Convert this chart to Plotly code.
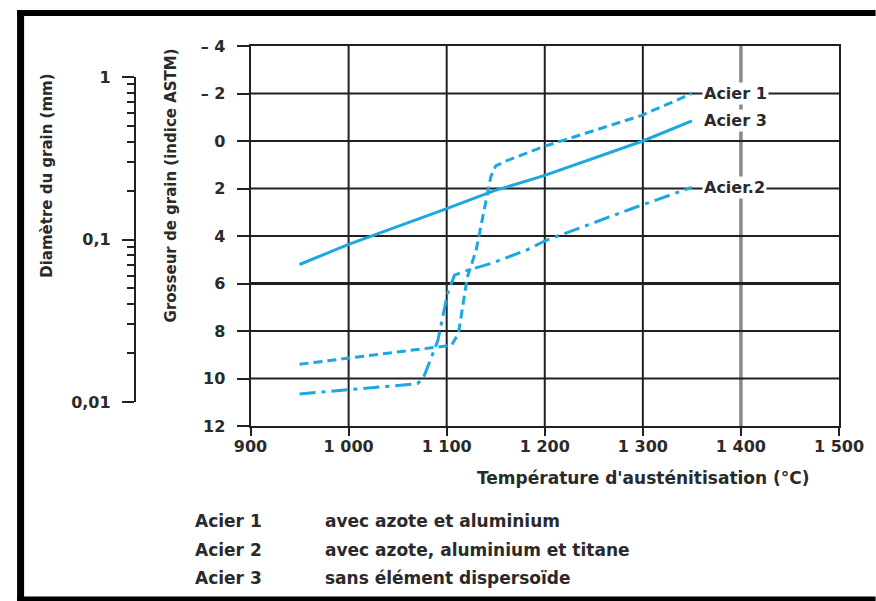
import plotly.graph_objects as go

# ---- data ----
acier1_x = [950, 1060, 1105, 1112, 1121, 1130, 1145, 1150, 1160, 1200, 1246, 1299, 1350]
acier1_y = [9.4, 8.83, 8.6, 8.1, 5.74, 4.6, 1.5, 1.05, 0.85, 0.22, -0.38, -1.08, -2.0]

acier2_x = [950, 1070, 1076, 1091, 1101, 1108, 1121, 1145, 1181, 1201, 1292, 1350]
acier2_y = [10.65, 10.22, 10.0, 8.4, 6.4, 5.65, 5.45, 5.16, 4.6, 4.19, 2.8, 1.95]

acier3_x = [950, 1000, 1100, 1148, 1200, 1300, 1350]
acier3_y = [5.2, 4.35, 2.85, 2.1, 1.45, 0.0, -0.85]

x_ticks = [900, 1000, 1100, 1200, 1300, 1400, 1500]
x_ticktext = ["900", "1 000", "1 100", "1 200", "1 300", "1 400", "1 500"]
y_ticks = [-4, -2, 0, 2, 4, 6, 8, 10, 12]
y_ticktext = ["\u2013 4", "\u2013 2", "0", "2", "4", "6", "8", "10", "12"]
d_major = [0.01, 0.1, 1]
d_major_text = ["0,01", "0,1", "1"]
d_minor = [0.02, 0.03, 0.04, 0.05, 0.06, 0.07, 0.08, 0.09,
           0.2, 0.3, 0.4, 0.5, 0.6, 0.7, 0.8, 0.9]

legend_names = ["Acier 1", "Acier 2", "Acier 3"]
legend_desc = ["avec azote et aluminium",
               "avec azote, aluminium et titane",
               "sans élément dispersoïde"]
curve_labels = ["Acier 1", "Acier 3", "Acier.2"]

# ---- geometry (pixels) ----
W, H = 876, 601
ML, MR, MT, MB = 20, 37, 46, 175
PW, PH = W - ML - MR, H - MT - MB


def px(xp):
    return (xp - ML) / PW


def py(yp):
    return (H - MB - yp) / PH


FONT = "DejaVu Sans"
TXT = "#2a2a2a"
CYAN = "#1ba8e2"
BOLD = "bold"

fig = go.Figure()
fig.add_trace(go.Scatter(x=acier1_x, y=acier1_y, mode="lines",
                         line=dict(color=CYAN, width=3, dash="9px,5px"),
                         showlegend=False, hoverinfo="skip"))
fig.add_trace(go.Scatter(x=acier2_x, y=acier2_y, mode="lines",
                         line=dict(color=CYAN, width=3, dash="16px,6px,4px,6px"),
                         showlegend=False, hoverinfo="skip"))
fig.add_trace(go.Scatter(x=acier3_x, y=acier3_y, mode="lines",
                         line=dict(color=CYAN, width=3),
                         showlegend=False, hoverinfo="skip"))
# dummy trace to activate the diameter axis
fig.add_trace(go.Scatter(x=[None], y=[None], yaxis="y2", showlegend=False,
                         hoverinfo="skip"))

shapes = []
# vertical grid lines
for v in x_ticks[1:-1]:
    col = "#8a8a8a" if v == 1400 else "#202020"
    wid = 3.5 if v == 1400 else 2
    shapes.append(dict(type="line", xref="x", yref="y", x0=v, x1=v,
                       y0=y_ticks[0], y1=y_ticks[-1],
                       line=dict(color=col, width=wid), layer="below"))
# horizontal grid lines
for v in y_ticks[1:-1]:
    shapes.append(dict(type="line", xref="x", yref="y", x0=x_ticks[0],
                       x1=x_ticks[-1], y0=v, y1=v,
                       line=dict(color="#202020", width=3.2 if v == 6 else 1.8),
                       layer="below"))
# outer frame
shapes.append(dict(type="line", xref="paper", yref="paper",
                   x0=px(8), x1=px(W), y0=py(13), y1=py(13),
                   line=dict(color="black", width=6)))
shapes.append(dict(type="line", xref="paper", yref="paper",
                   x0=px(11.5), x1=px(11.5), y0=py(10), y1=py(H),
                   line=dict(color="black", width=7)))
shapes.append(dict(type="line", xref="paper", yref="paper",
                   x0=px(8), x1=px(W), y0=py(599), y1=py(599),
                   line=dict(color="black", width=5)))


def f(size):
    return dict(family=FONT, size=size, color=TXT, weight=BOLD)


annotations = []
# curve labels
for name, yv in zip(curve_labels, [acier1_y[-1], acier3_y[-1], acier2_y[-1]]):
    annotations.append(dict(x=px(700), y=yv, xref="paper", yref="y",
                            text=name, showarrow=False, xanchor="left",
                            yanchor="middle", bgcolor="white", borderpad=1,
                            font=f(16)))
# axis titles
annotations.append(dict(x=px(38), y=py(176), xref="paper", yref="paper",
                        text="Diamètre du grain (mm)", textangle=-90,
                        xanchor="center", yanchor="middle",
                        showarrow=False, font=f(15)))
annotations.append(dict(x=px(164), y=py(185), xref="paper", yref="paper",
                        text="Grosseur de grain (indice ASTM)", textangle=-90,
                        xanchor="center", yanchor="middle",
                        showarrow=False, font=f(15)))
annotations.append(dict(x=px(641), y=py(478), xref="paper", yref="paper",
                        text="Température d'austénitisation (°C)",
                        xanchor="center", yanchor="middle",
                        showarrow=False, font=f(17)))
# legend text
for i, (n, d) in enumerate(zip(legend_names, legend_desc)):
    yy = py(521 + 28.5 * i)
    annotations.append(dict(x=px(186), y=yy, xref="paper", yref="paper",
                            text=n, showarrow=False, xanchor="left",
                            yanchor="middle", font=f(17)))
    annotations.append(dict(x=px(317), y=yy, xref="paper", yref="paper",
                            text=d, showarrow=False, xanchor="left",
                            yanchor="middle", font=f(17)))

fig.update_layout(
    width=W, height=H,
    margin=dict(l=ML, r=MR, t=MT, b=MB),
    paper_bgcolor="white", plot_bgcolor="rgba(0,0,0,0)",
    showlegend=False,
    xaxis=dict(domain=[px(244), 1], range=[x_ticks[0], x_ticks[-1]],
               tickmode="array", tickvals=x_ticks, ticktext=x_ticktext,
               ticks="outside", ticklen=8, tickwidth=2, tickcolor="#202020",
               ticklabelstandoff=-3,
               showgrid=False, zeroline=False,
               showline=True, linecolor="#202020", linewidth=2, mirror=True,
               tickfont=f(16)),
    yaxis=dict(domain=[0, 1], range=[y_ticks[-1], y_ticks[0]],
               tickmode="array", tickvals=y_ticks, ticktext=y_ticktext,
               ticks="outside", ticklen=12, tickwidth=2, tickcolor="#202020",
               ticklabelstandoff=8,
               showgrid=False, zeroline=False,
               showline=True, linecolor="#202020", linewidth=2, mirror=True,
               tickfont=f(16)),
    yaxis2=dict(type="log", range=[-2, 0], anchor="free", position=px(127),
                domain=[py(402), py(77)], side="left",
                tickmode="array", tickvals=d_major, ticktext=d_major_text,
                ticks="outside", ticklen=12, tickwidth=2, tickcolor="#202020",
                ticklabelstandoff=8,
                minor=dict(tickmode="array", tickvals=d_minor, ticks="outside",
                           ticklen=7, tickwidth=2, tickcolor="#202020",
                           showgrid=False),
                showgrid=False, zeroline=False,
                showline=True, linecolor="#202020", linewidth=2,
                tickfont=f(16)),
    shapes=shapes,
    annotations=annotations,
)

fig.write_html("out.html")
